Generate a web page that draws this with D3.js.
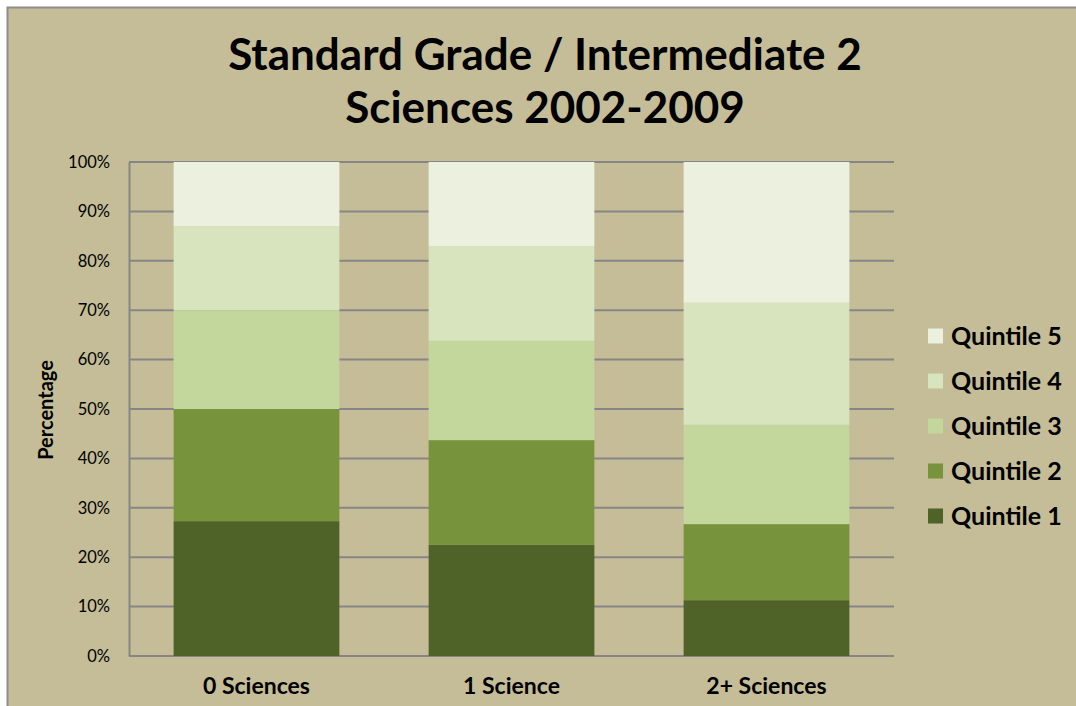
<!DOCTYPE html>
<html>
<head>
<meta charset="utf-8">
<script src="https://cdnjs.cloudflare.com/ajax/libs/d3/7.8.5/d3.min.js"></script>
<style>
  body { margin: 0; background: #fff; }
  text { font-family: Lato, "Open Sans", sans-serif; fill: #000; }
</style>
</head>
<body>
<div id="chart"></div>
<script>
// data
const categories = ["0 Sciences", "1 Science", "2+ Sciences"];
const seriesNames = ["Quintile 1", "Quintile 2", "Quintile 3", "Quintile 4", "Quintile 5"];
const quintile1 = [27.3, 22.5, 11.3];
const quintile2 = [22.7, 21.2, 15.4];
const quintile3 = [20.0, 20.1, 20.1];
const quintile4 = [17.0, 19.2, 24.7];
const quintile5 = [13.0, 17.0, 28.5];
const yTicks = [0, 10, 20, 30, 40, 50, 60, 70, 80, 90, 100];
const colors = ["#4F6228", "#77933C", "#C3D69B", "#D7E4BD", "#EBF1DE"];

const W = 1076, H = 706;
const margin = { top: 162, left: 129, right: 1076 - 894, bottom: 706 - 656 };
const width = W - margin.left - margin.right,
  height = H - margin.top - margin.bottom;

const svg = d3.select("#chart").append("svg").attr("width", W).attr("height", H);

// chart area background with border
svg.append("rect")
  .attr("x", 7.5).attr("y", 7.5)
  .attr("width", W).attr("height", H)
  .attr("fill", "#C4BD97")
  .attr("stroke", "#8C8C8C").attr("stroke-width", 2);

// title
const title = svg.append("text")
  .attr("text-anchor", "middle")
  .attr("font-weight", "bold")
  .attr("font-size", 44);
title.append("tspan").attr("x", 545).attr("y", 70).text("Standard Grade / Intermediate 2");
title.append("tspan").attr("x", 545).attr("y", 123).text("Sciences 2002-2009");

const g = svg.append("g").attr("transform", `translate(${margin.left},${margin.top})`);

const rows = categories.map((c, i) => ({
  cat: c,
  "Quintile 1": quintile1[i],
  "Quintile 2": quintile2[i],
  "Quintile 3": quintile3[i],
  "Quintile 4": quintile4[i],
  "Quintile 5": quintile5[i]
}));

const x = d3.scaleBand().domain(categories).range([0, width]).paddingInner(0.35).paddingOuter(0.175);
const y = d3.scaleLinear().domain([0, 100]).range([height, 0]);
const color = d3.scaleOrdinal().domain(seriesNames).range(colors);

// gridlines
g.append("g")
  .selectAll("line")
  .data(yTicks)
  .join("line")
  .attr("x1", 0).attr("x2", width)
  .attr("y1", d => y(d)).attr("y2", d => y(d))
  .attr("stroke", "#868686").attr("stroke-width", 2);

// y axis
const yAxis = g.append("g")
  .call(d3.axisLeft(y).tickValues(yTicks).tickFormat(d => d + "%").tickSize(0).tickPadding(19));
yAxis.select(".domain").attr("stroke", "#868686").attr("stroke-width", 2);
yAxis.selectAll("text").attr("font-size", 16.5).style("font-family", "Lato, sans-serif");

// stacked bars
const stacked = d3.stack().keys(seriesNames)(rows);
g.append("g")
  .selectAll("g")
  .data(stacked)
  .join("g")
  .attr("fill", d => color(d.key))
  .selectAll("rect")
  .data(d => d)
  .join("rect")
  .attr("x", d => x(d.data.cat))
  .attr("y", d => y(d[1]))
  .attr("width", x.bandwidth())
  .attr("height", d => y(d[0]) - y(d[1]));

// x axis
const xAxis = g.append("g")
  .attr("transform", `translate(0,${height})`)
  .call(d3.axisBottom(x).tickSize(0).tickPadding(22));
xAxis.select(".domain").remove();
xAxis.selectAll("text").attr("font-size", 23).attr("font-weight", "bold").style("font-family", "Lato, sans-serif");

// y axis title
svg.append("text")
  .attr("transform", "translate(53,410) rotate(-90)")
  .attr("text-anchor", "middle")
  .attr("font-size", 20)
  .attr("font-weight", "bold")
  .text("Percentage");

// legend
const legend = svg.append("g")
  .selectAll("g")
  .data(seriesNames.slice().reverse())
  .join("g")
  .attr("transform", (d, i) => `translate(928,${336 + i * 45})`);
legend.append("rect")
  .attr("x", 0).attr("y", -7.5)
  .attr("width", 15).attr("height", 15)
  .attr("fill", d => color(d));
legend.append("text")
  .attr("x", 23).attr("y", 9)
  .attr("font-size", 25)
  .attr("font-weight", "bold")
  .text(d => d);
</script>
</body>
</html>
